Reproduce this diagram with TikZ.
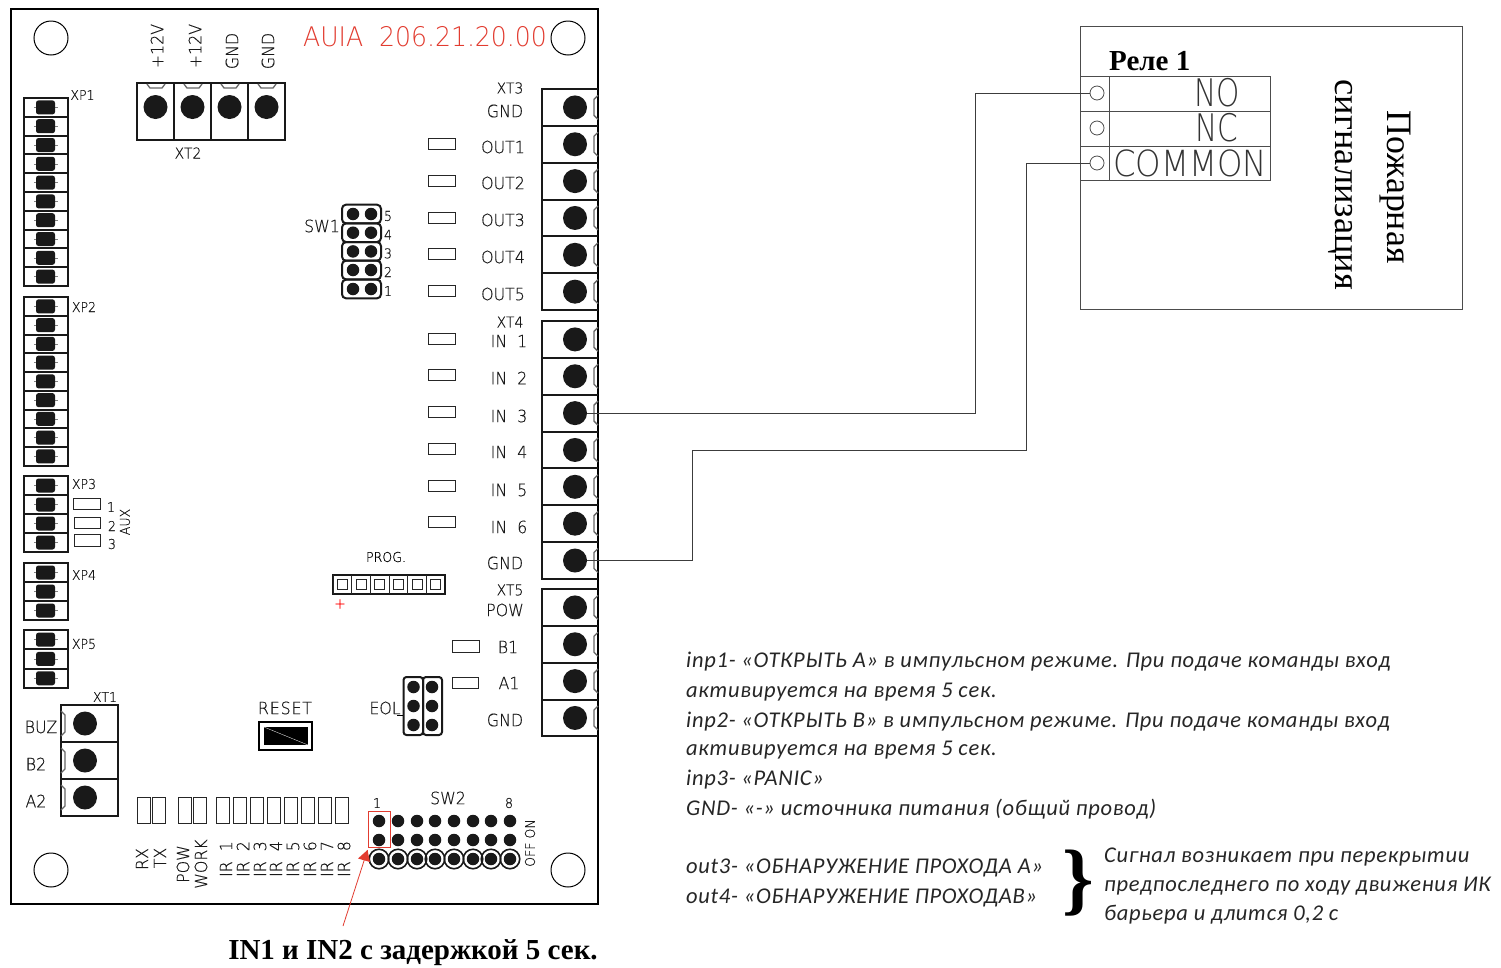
\documentclass[tikz,border=0pt]{standalone}
\usepackage{fontspec}
\setmainfont{Liberation Serif}
\newfontfamily\cad[FakeStretch=0.93,FakeBold=0.35]{DejaVu Sans ExtraLight}
\newfontfamily\cadt[FakeStretch=0.93]{DejaVu Sans ExtraLight}
\newfontfamily\cadr[FakeStretch=0.93,FakeBold=0.35,LetterSpace=5]{DejaVu Sans ExtraLight}
\newfontfamily\cadw[FakeStretch=0.9]{DejaVu Sans ExtraLight}
\newfontfamily\cadn[FakeStretch=0.78]{DejaVu Sans ExtraLight}
\newfontfamily\ital[ItalicFont=Carlito Italic,LetterSpace=3.2]{Carlito}
\newcommand{\fs}[1]{\fontsize{#1}{#1}\selectfont}
\definecolor{redtxt}{RGB}{226,60,48}
\definecolor{wire}{RGB}{60,60,60}
\tikzset{
  board/.style={draw=black,line width=1.8pt},
  cell/.style={draw=black!90,line width=2pt},
  pad/.style={draw=none,fill=black!90,rounded corners=2.5pt,minimum width=19pt,minimum height=14pt,inner sep=0pt},
  tdot/.style={circle,fill=black!90,minimum size=24pt,inner sep=0pt},
  jdot/.style={circle,fill=black!90,minimum size=12.5pt,inner sep=0pt},
  led/.style={draw=black!85,line width=1pt},
  hole/.style={circle,draw=black,line width=1pt,minimum size=34pt,inner sep=0pt},
  lab/.style={font=\cad\fs{17},text=black!90,inner sep=0pt},
  labs/.style={font=\cad\fs{13.5},text=black!90,inner sep=0pt},
  labx/.style={font=\cad\fs{15},text=black!90,inner sep=0pt},
  note/.style={font=\ital\itshape\fs{22.5},anchor=base west,inner sep=0pt,text=black!85},
  rel/.style={circle,draw=black!70,line width=.8pt,minimum size=14pt,inner sep=0pt},
  wireline/.style={draw=wire,line width=.9pt},
  tab/.style={draw=black!60,line width=1.3pt},
}
\begin{document}
\begin{tikzpicture}[x=1pt,y=-1pt]
\useasboundingbox (0,0) rectangle (1501,967);
\fill[white] (0,0) rectangle (1501,967);
% board
\draw[board] (11,9) rectangle (598,904);
\node[hole] (h1) at (51,38) {};
\node[hole] (h2) at (568,38) {};
\node[hole] (h3) at (51,870) {};
\node[hole] (h4) at (568,870) {};
\node[font=\cadt\fs{27},text=redtxt,inner sep=0pt] (title) at (425,37) {AUIA\ \ 206.21.20.00};
% XP connectors
\foreach \tp/\n/\nm/\h in {98/10/a/18.8,297/9/b/18.75,476/4/c/19,563/3/d/19,630/3/e/19.3}{
  \foreach \i in {1,...,\n}{
    \pgfmathsetmacro{\ya}{\tp+(\i-1)*\h}
    \pgfmathsetmacro{\yb}{\ya+\h}
    \pgfmathsetmacro{\yc}{\ya+\h/2}
    \draw[cell] (24,\ya) rectangle (68,\yb);
    \draw[black!50,line width=.5pt] (34,\yc) -- (58,\yc);
    \node[pad] (p\nm\i) at (45.5,\yc) {};
  }
}
\node[labs] (xp1) at (82.5,95) {XP1};
\node[labs] (xp2) at (84,307) {XP2};
\node[labs] (xp3) at (84,484) {XP3};
\node[labs] (xp4) at (84,575) {XP4};
\node[labs] (xp5) at (84,644) {XP5};
\draw[led] (73,498) rectangle (100,509);
\draw[led] (74,517) rectangle (100,528);
\draw[led] (74,534) rectangle (100,546);
\node[labs] (a1) at (111,507) {1};
\node[labs] (a2) at (112,526) {2};
\node[labs] (a3) at (112,544) {3};
\node[labs,rotate=90] (aux) at (125,522) {AUX};
% XT2
\foreach \x/\i in {137/1,174/2,211/3,248/4}{
  \draw[cell] (\x,83) rectangle (\x+37,140);
  \node[tdot] (t2\i) at (\x+18.5,107) {};
  \draw[tab] (\x+10,84) -- (\x+13,88) -- (\x+25,88) -- (\x+28,84);
}
\node[labx] (xt2) at (188,153) {XT2};
\node[lab,rotate=90] (v1) at (157,46) {+12V};
\node[lab,rotate=90] (v2) at (195,46) {+12V};
\node[lab,rotate=90] (g1) at (232,51) {GND};
\node[lab,rotate=90] (g2) at (268,51) {GND};
% right terminals
\foreach \tp/\n/\nm in {89/6/o,321/7/i,589/4/q}{
  \foreach \i in {1,...,\n}{
    \pgfmathsetmacro{\ya}{\tp+(\i-1)*36.85}
    \pgfmathsetmacro{\yb}{\ya+36.85}
    \pgfmathsetmacro{\yc}{\ya+18.4}
    \draw[cell] (598,\ya) -- (542,\ya) -- (542,\yb) -- (598,\yb);
    \node[tdot] (\nm\i) at (575,\yc) {};
    \draw[tab] (598,\yc-12) -- (594,\yc-8) -- (594,\yc+8) -- (598,\yc+12);
  }
}
\node[labx] (xt3) at (510,88) {XT3};
\node[lab] (l0) at (505,111) {GND};
\foreach \y/\t/\i in {147/OUT1/1,183/OUT2/2,220/OUT3/3,257/OUT4/4,294/OUT5/5}{
  \node[lab] (lo\i) at (503,\y) {\t};
}
\node[labx] (xt4) at (510,322) {XT4};
\foreach \y/\i in {341/1,378/2,416/3,452/4,490/5,527/6}{
  \node[lab] (li\i) at (509,\y) {IN\ \ \i};
}
\node[lab] (lg2) at (505,563) {GND};
\node[labx] (xt5) at (510,590) {XT5};
\node[lab] (lpow) at (505,610) {POW};
\node[lab] (lb1) at (508,647) {B1};
\node[lab] (la1) at (509,683) {A1};
\node[lab] (lg3) at (505,720) {GND};
% LED rectangles
\foreach \y in {138,175,212,248,285,333,369,406,443,480,516}{
  \draw[led] (428,\y) rectangle (455,\y+11.5);
}
\draw[led] (452,640) rectangle (479,652);
\draw[led] (452,677) rectangle (478,688);
% SW1
\foreach \y/\t/\i in {214/5/5,232.7/4/4,251.4/3/3,270/2/2,289/1/1}{
  \draw[cell,rounded corners=4pt] (342,\y-9.3) rectangle (381,\y+9.3);
  \node[jdot] (sa\i) at (353,\y) {};
  \node[jdot] (sb\i) at (371,\y) {};
  \node[labs] (sl\i) at (388,\y+2) {\t};
}
\node[lab] (sw1) at (322,226) {SW1};
% PROG
\draw[line width=1.2pt,draw=black!90] (333,575) rectangle (445,594);
\foreach \i in {0,...,5}{
  \draw[line width=.9pt,draw=black!85] (333+\i*18.67,575) -- (333+\i*18.67,594);
  \draw[line width=.9pt,draw=black!85] (337.5+\i*18.67,579.5) rectangle (347.5+\i*18.67,589.5);
}
\node[font=\cad\fs{13.5},inner sep=0pt] (prog) at (386,557) {PROG.};
\node[font=\cad\fs{15},text=red,inner sep=0pt] (plus) at (340,604) {+};
% RESET
\node[font=\cadr\fs{17},text=black!90,inner sep=0pt] (reset) at (285,708) {RESET};
\draw[line width=1.2pt] (259,722) rectangle (312,750);
\fill[black] (264,727) rectangle (308,745);
\draw[white,line width=.3pt] (264,727) -- (308,745);
% EOL
\node[lab] (eol) at (385,708) {EOL};
\draw[cell,rounded corners=3pt] (403.5,677) rectangle (423,735);
\draw[cell,rounded corners=3pt] (423,677) rectangle (442,735);
\draw[line width=1pt] (397,715) -- (403,715);
\foreach \y/\i in {687/1,706/2,725/3}{
  \node[jdot] (ea\i) at (413.5,\y) {};
  \node[jdot] (eb\i) at (432,\y) {};
}
% XT1
\foreach \y/\i/\t/\xl in {705/1/BUZ/41,742/2/B2/36,779/3/A2/36}{
  \draw[cell] (61,\y) rectangle (118,\y+37);
  \node[tdot] (t1\i) at (85,\y+18.5) {};
  \draw[tab] (61,\y+6) -- (65,\y+10) -- (65,\y+27) -- (61,\y+31);
  \node[lab] (tl\i) at (\xl,\y+22) {\t};
}
\node[labs] (xt1) at (105,697) {XT1};
% tall LEDs
\foreach \x in {137,152,178,193,216,233,250,267,284,301,318,335}{
  \draw[led] (\x,797) rectangle (\x+13,823);
}
\foreach \x/\t/\y/\i in {142/RX/859/1,160/TX/858/2,183/POW/864/3,201/WORK/864/4}{
  \node[lab,rotate=90] (ll\i) at (\x,\y) {\t};
}
\foreach \x/\t in {226/1,243/2,260/3,276/4,293/5,310/6,327/7,344/8}{
  \node[lab,rotate=90] (ir\t) at (\x,859) {IR\ \ \t};
}
% SW2
\node[lab] (sw2) at (448,798) {SW2};
\node[labs] (n1) at (377,803) {1};
\node[labs] (n8) at (509,803) {8};
\foreach \x/\i in {379/1,398/2,417/3,435/4,454/5,473/6,491/7,510/8}{
  \node[jdot] (u\i) at (\x,821) {};
  \node[jdot] (v\i) at (\x,840) {};
  \node[circle,draw=black!90,line width=1.6pt,minimum size=19.5pt,inner sep=0pt] (wo\i) at (\x,859) {};
  \node[jdot] (w\i) at (\x,859) {};
}
\node[labs,rotate=90] (offon) at (530,843) {OFF ON};
\node[draw=redtxt,line width=1pt,minimum width=22pt,minimum height=36pt,inner sep=0pt] (mark) at (379,829) {};
\coordinate (arrowend) at (343,926);
\coordinate (arrowtip) at (367.5,850);
\draw[redtxt,line width=.8pt] (arrowend) -- (arrowtip);
\fill[redtxt] (arrowtip) -- (358,858.5) -- (370,862) -- cycle;
\node[font=\bfseries\fs{29},inner sep=0pt] (cap) at (413,953) {IN1 и IN2 с задержкой 5 сек.};
% Relay box
\draw[draw=black!70,line width=1pt] (1080,26) rectangle (1462,309);
\node[font=\bfseries\fs{29},inner sep=0pt,anchor=base west] (rele) at (1109,70) {Реле 1};
\draw[draw=black!70,line width=1pt] (1080,76) rectangle (1270,180);
\draw[draw=black!70,line width=1pt] (1080,111) -- (1270,111);
\draw[draw=black!70,line width=1pt] (1080,146) -- (1270,146);
\draw[draw=black!70,line width=1pt] (1109,76) -- (1109,180);
\node[rel] (r1) at (1097,93) {};
\node[rel] (r2) at (1097,128) {};
\node[rel] (r3) at (1097,163) {};
\node[font=\cadn\fs{38},text=black!80,inner sep=0pt] (no) at (1217,93) {NO};
\node[font=\cadn\fs{38},text=black!80,inner sep=0pt] (nc) at (1217,128) {NC};
\node[font=\cadw\fs{36},text=black!80,inner sep=0pt] (common) at (1190,163) {COMMON};
\node[font=\fs{35.8},rotate=-90,inner sep=0pt] (fire) at (1395,187) {Пожарная};
\node[font=\fs{36.4},rotate=-90,inner sep=0pt] (sign) at (1341,185) {сигнализация};
% wires
\coordinate (b1) at (975,93);
\coordinate (b2) at (692,450);
\coordinate (b3) at (1026,163);
\draw[wireline] (i3.east) -| (b1) -- (r1.west);
\draw[wireline] (i7.east) -| (b2) -| (b3) -- (r3.west);
% notes
\node[note] (t1) at (686,667) {inp1- «ОТКРЫТЬ А» в импульсном режиме. При подаче команды вход};
\node[note] (t2) at (686,697) {активируется на время 5 сек.};
\node[note] (t3) at (686,727) {inp2- «ОТКРЫТЬ В» в импульсном режиме. При подаче команды вход};
\node[note] (t4) at (686,755) {активируется на время 5 сек.};
\node[note] (t5) at (686,785) {inp3- «PANIC»};
\node[note] (t6) at (686,815) {GND- «-» источника питания (общий провод)};
\node[note] (t7) at (686,873) {out3- «ОБНАРУЖЕНИЕ ПРОХОДА А»};
\node[note] (t8) at (686,903) {out4- «ОБНАРУЖЕНИЕ ПРОХОДАВ»};
\node[note] (t9) at (1104,862) {Сигнал возникает при перекрытии};
\node[note] (t10) at (1104,891) {предпоследнего по ходу движения ИК};
\node[note] (t11) at (1104,920) {барьера и длится 0,2 с};
\node[font=\bfseries\fs{80},inner sep=0pt] (brace) at (1078,883) {\}};
\end{tikzpicture}
\end{document}
